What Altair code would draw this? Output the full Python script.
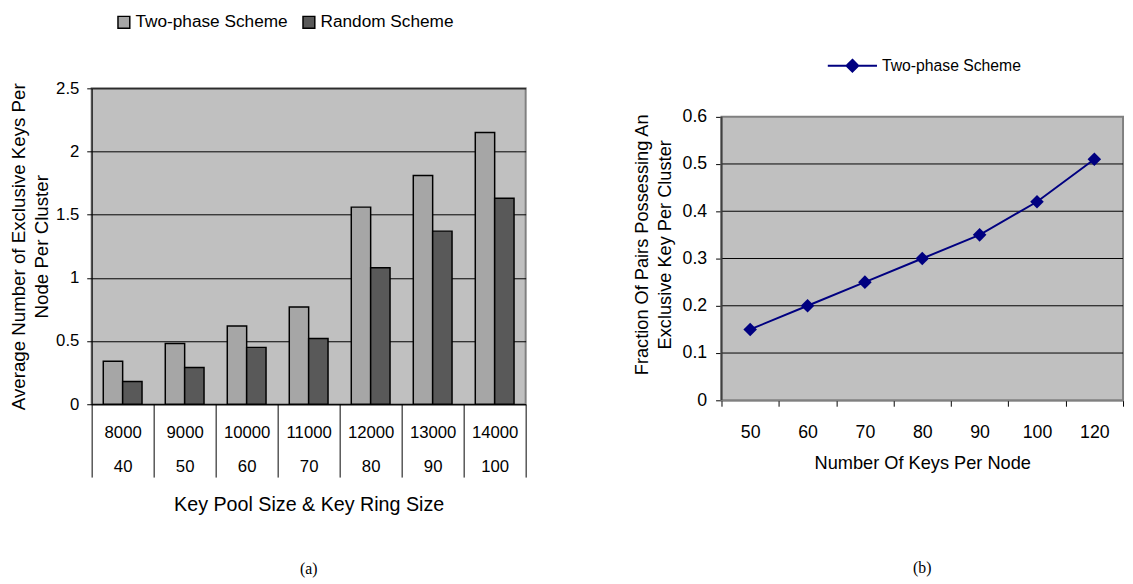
import altair as alt
import pandas as pd

# ---------------- data ----------------
pool_sizes = ["8000", "9000", "10000", "11000", "12000", "13000", "14000"]
ring_sizes = ["40", "50", "60", "70", "80", "90", "100"]
series_a = ["Two-phase Scheme", "Random Scheme"]
two_phase_a = [0.34, 0.48, 0.62, 0.77, 1.56, 1.81, 2.15]
random_a = [0.18, 0.29, 0.45, 0.52, 1.08, 1.37, 1.63]
y_ticks_a = [0, 0.5, 1, 1.5, 2, 2.5]

keys_per_node = ["50", "60", "70", "80", "90", "100", "120"]
series_b = ["Two-phase Scheme"]
fraction_b = [0.15, 0.20, 0.25, 0.30, 0.35, 0.42, 0.51]
y_ticks_b = [0, 0.1, 0.2, 0.3, 0.4, 0.5, 0.6]

FONT = "Liberation Sans"
SERIF = "Liberation Serif"

cats = [p + "|" + r for p, r in zip(pool_sizes, ring_sizes)]
rows = []
for c, t, r in zip(cats, two_phase_a, random_a):
    rows.append({"cat": c, "series": series_a[0], "value": t})
    rows.append({"cat": c, "series": series_a[1], "value": r})
df_a = pd.DataFrame(rows)

df_b = pd.DataFrame({"keys": keys_per_node, "fraction": fraction_b,
                     "series": series_b * len(keys_per_node)})
df_panel = pd.DataFrame({"lo": [y_ticks_b[0]], "hi": [y_ticks_b[-1]]})
df_grid = pd.DataFrame({"g": y_ticks_b[1:-1]})

# ---------------- left chart (a) ----------------
legend_a = alt.Legend(orient="none", legendX=24, legendY=-76,
                      direction="horizontal", title=None,
                      symbolType="square", symbolSize=144,
                      symbolStrokeColor="black", symbolStrokeWidth=1.5,
                      labelFontSize=17.5, labelOffset=3,
                      columnPadding=11, padding=0)
left = alt.Chart(df_a).mark_bar(strokeWidth=1.5).encode(
    x=alt.X("cat:N", sort=cats,
            scale=alt.Scale(paddingInner=0, paddingOuter=0),
            axis=alt.Axis(title="Key Pool Size & Key Ring Size", labelAngle=0,
                          labelExpr="split(datum.label, '|')",
                          tickBand="extent", tickSize=74, tickColor="black",
                          tickWidth=1, domainColor="black", labelLineHeight=34,
                          labelPadding=-53, labelFontSize=17, titleFontSize=20,
                          titlePadding=17, grid=False)),
    xOffset=alt.XOffset("series:N", sort=series_a,
                        scale=alt.Scale(paddingInner=0, paddingOuter=0.6)),
    y=alt.Y("value:Q", scale=alt.Scale(domain=[y_ticks_a[0], y_ticks_a[-1]], nice=False),
            axis=alt.Axis(values=y_ticks_a, format="~g",
                          title=["Average Number of Exclusive Keys Per", "Node Per Cluster"],
                          titleLineHeight=24, titleFontSize=19, labelFontSize=17,
                          tickSize=5, labelPadding=8, titlePadding=4,
                          domainColor="black", tickColor="black")),
    color=alt.Color("series:N",
                    scale=alt.Scale(domain=series_a, range=["#A6A6A6", "#595959"]),
                    legend=legend_a),
    stroke=alt.Stroke("series:N",
                      scale=alt.Scale(domain=series_a, range=["black", "black"]),
                      legend=legend_a),
).properties(
    width=441, height=321,
    view=alt.ViewBackground(fill="#C0C0C0", stroke="#808080", strokeWidth=2),
    title=alt.TitleParams("(a)", orient="bottom", font=SERIF, fontSize=16,
                          fontWeight="normal", offset=48),
)

# ---------------- right chart (b) ----------------
# the plot group of (b) starts at the same height as (a); its y domain runs a
# little above 0.6 so that the grey panel (0 .. 0.6) sits lower, as in the figure
W_B, H_B = 408, 317
y_b = alt.Y("fraction:Q", scale=alt.Scale(domain=[0, 0.66], nice=False),
            axis=alt.Axis(values=y_ticks_b, format="~g", grid=False, domain=False,
                          title=["Fraction Of Pairs Possessing An", "Exclusive Key Per Cluster"],
                          titleLineHeight=23, titleFontSize=18.5, labelFontSize=18,
                          tickSize=6, labelPadding=9, titlePadding=8, tickColor="black"))
x_b = alt.X("keys:N", sort=keys_per_node,
            scale=alt.Scale(type="band", paddingInner=0, paddingOuter=0),
            axis=alt.Axis(title="Number Of Keys Per Node", labelAngle=0,
                          tickBand="extent", tickSize=6, tickColor="black",
                          domainColor="black", labelFontSize=18, labelPadding=18,
                          titleFontSize=18.5, titlePadding=12, grid=False))

panel = alt.Chart(df_panel).mark_rect(fill="#C0C0C0", stroke="#808080", strokeWidth=2).encode(
    x=alt.value(0), x2=alt.value(W_B),
    y=alt.Y("lo:Q"), y2=alt.Y2("hi:Q"),
)
left_edge = alt.Chart(df_panel).mark_rule(color="#404040", strokeWidth=2).encode(
    x=alt.value(0), y=alt.Y("lo:Q"), y2=alt.Y2("hi:Q"),
)
grid_b = alt.Chart(df_grid).mark_rule(color="black", strokeWidth=1).encode(
    x=alt.value(0), x2=alt.value(W_B), y=alt.Y("g:Q"),
)
legend_path = "M-1,0L1,0M0,-0.24L0.24,0L0,0.24L-0.24,0Z"
color_b = alt.Color("series:N", scale=alt.Scale(domain=series_b, range=["#000080"]),
                    legend=alt.Legend(orient="none", legendX=107, legendY=-49,
                                      padding=0, title=None,
                                      symbolType=legend_path, symbolSize=2500,
                                      symbolStrokeColor="#000080", symbolFillColor="#000080",
                                      symbolStrokeWidth=2, labelFontSize=16,
                                      labelOffset=4))
base = alt.Chart(df_b).encode(x=x_b, y=y_b, color=color_b)
right = alt.layer(
    panel, grid_b, left_edge,
    base.mark_line(strokeWidth=2),
    base.mark_point(shape="diamond", filled=True, size=190, opacity=1),
).properties(
    width=W_B, height=H_B,
    view=alt.ViewBackground(fill="transparent", stroke="transparent"),
    title=alt.TitleParams("(b)", orient="bottom", font=SERIF, fontSize=16,
                          fontWeight="normal", offset=90),
)

chart = alt.hconcat(left, right, spacing=106).resolve_scale(
    color="independent", stroke="independent"
).resolve_legend(color="independent", stroke="independent").properties(
    padding=0
).configure(font=FONT).configure_axis(
    gridColor="black", gridWidth=1, gridOpacity=1, labelColor="black",
    titleColor="black", titleFontWeight="normal", labelFont=FONT, titleFont=FONT
).configure_legend(labelColor="black", labelFont=FONT)

chart.save("out.html", embed_options={"renderer": "svg", "actions": False})
